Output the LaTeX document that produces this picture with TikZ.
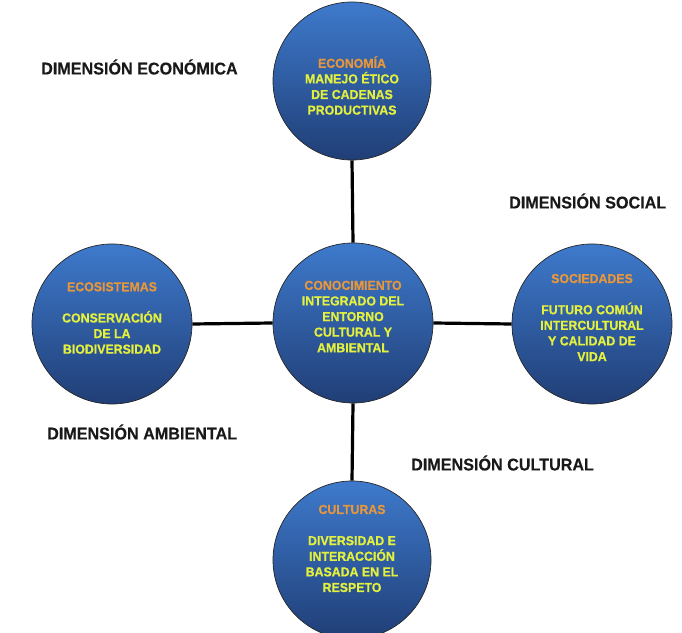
\documentclass[tikz,border=0pt]{standalone}
\usepackage{fontspec}
\setmainfont{Liberation Sans}
% heavy, slightly narrowed face for all lettering
\newfontfamily\heavyfont{Liberation Sans Bold}[FakeStretch=0.95, FakeBold=0.8]
\newfontfamily\captionfont{Liberation Sans Bold}[FakeStretch=0.95, FakeBold=0.3]

\definecolor{disctop}{RGB}{62,122,204}
\definecolor{discmid}{RGB}{82,148,230}
\definecolor{discbot}{RGB}{32,62,118}
\definecolor{headorange}{RGB}{230,150,60}
\definecolor{bodyyellow}{RGB}{228,240,62}

\tikzset{
  disc/.style={circle, draw=black!85, line width=0.7pt,
    top color=disctop, middle color=discmid, bottom color=discbot,
    minimum size=#1, inner sep=0pt},
  disctext/.style={align=center, font=\fontsize{13}{15.6}\selectfont\heavyfont,
    text=bodyyellow, inner sep=0pt},
  dimlabel/.style={font=\fontsize{17}{19}\selectfont\captionfont, text=black!90,
    inner sep=0pt, anchor=west},
  link/.style={line width=3.2pt, black}
}

\begin{document}
\begin{tikzpicture}[x=1pt, y=1pt]
\useasboundingbox (0,0) rectangle (682,632);

% discs
\node[disc=158pt] (eco) at (352,551) {};
\node[disc=160pt] (mid) at (353,309) {};
\node[disc=160pt] (amb) at (112,308) {};
\node[disc=160pt] (soc) at (592,308) {};
\node[disc=158pt] (cul) at (352,72) {};

% spokes
\draw[link] (eco.south) -- (mid.north);
\draw[link] (amb.east) -- (mid.west);
\draw[link] (mid.east) -- (soc.west);
\draw[link] (mid.south) -- (cul.north);

% disc contents
\node[disctext] (ecot) at (352,546.5) {\textcolor{headorange}{ECONOMÍA}\\MANEJO ÉTICO\\DE CADENAS\\PRODUCTIVAS};
\node[disctext] (midt) at (353,315.5) {\textcolor{headorange}{CONOCIMIENTO}\\INTEGRADO DEL\\ENTORNO\\CULTURAL Y\\AMBIENTAL};
\node[disctext] (ambt) at (112,314) {\textcolor{headorange}{ECOSISTEMAS}\\[15.6pt]CONSERVACIÓN\\DE LA\\BIODIVERSIDAD};
\node[disctext] (soct) at (592,314.5) {\textcolor{headorange}{SOCIEDADES}\\[15.6pt]FUTURO COMÚN\\INTERCULTURAL\\Y CALIDAD DE\\VIDA};
\node[disctext] (cult) at (352,83.5) {\textcolor{headorange}{CULTURAS}\\[15.6pt]DIVERSIDAD E\\INTERACCIÓN\\BASADA EN EL\\RESPETO};

% dimension captions
\node[dimlabel] (deco) at (41,565) {DIMENSIÓN ECONÓMICA};
\node[dimlabel] (dsoc) at (509,431) {DIMENSIÓN SOCIAL};
\node[dimlabel] (damb) at (47,200) {DIMENSIÓN AMBIENTAL};
\node[dimlabel] (dcul) at (411,169) {DIMENSIÓN CULTURAL};
\end{tikzpicture}
\end{document}
